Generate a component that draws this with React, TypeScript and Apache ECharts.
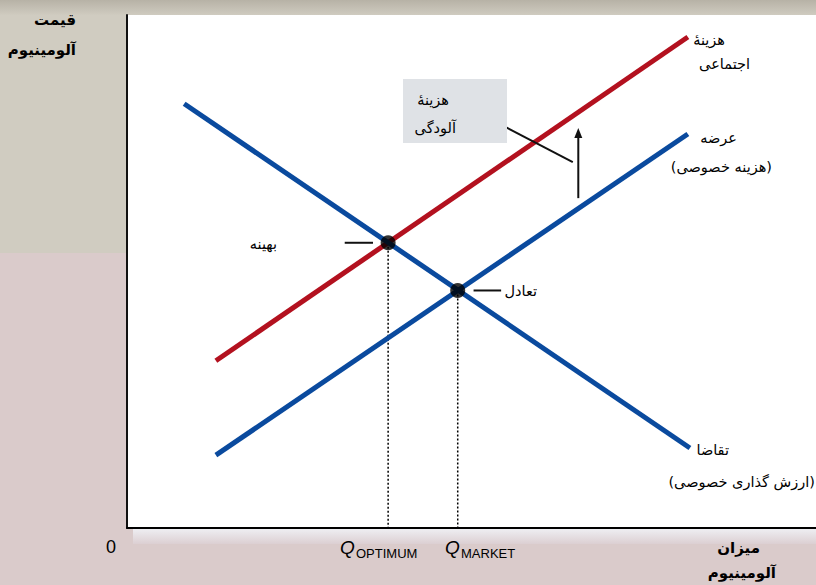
import React, { useEffect, useRef } from "react";
import * as echarts from "echarts";

// Data (x: quantity 0-100, y: price 0-100)
const socialCostCurve = [[12.9, 32.6], [81.4, 95.7]];
const supplyCurve = [[12.9, 14.2], [81.4, 76.8]];
const demandCurve = [[8.3, 82.7], [81.7, 15.6]];
const optimumPoint = [37.9, 55.6];
const marketPoint = [48.0, 46.3];
const pollutionArrow = [[65.5, 64.3], [65.5, 77.0]];
const pollutionPointer = [[54.9, 78.2], [64.7, 71.3]];
const optimumPointer = [[31.6, 55.6], [35.7, 55.6]];
const marketPointer = [[50.3, 46.3], [54.3, 46.3]];

const yTitle = ["قیمت", "آلومینیوم"];
const xTitle = ["میزان", "آلومینیوم"];
const socialCostLabel = ["هزینهٔ", "اجتماعی"];
const supplyLabel = ["عرضه", "(هزینه خصوصی)"];
const demandLabel = ["تقاضا", "(ارزش گذاری خصوصی)"];
const pollutionLabel = ["هزینهٔ", "آلودگی"];
const optimumLabel = "بهینه";
const marketLabel = "تعادل";
const zeroLabel = "0";
const qLabels = [
  { sub: "OPTIMUM", x: 340 },
  { sub: "MARKET", x: 445 },
];

const RED = "#b3111f";
const BLUE = "#0a4a9e";
const FA = "DejaVu Sans";

export default function App() {
  const ref = useRef<HTMLDivElement>(null);
  useEffect(() => {
    document.body.style.margin = "0";
    const chart = echarts.init(ref.current!, null, { renderer: "svg" });
    const txt = (text: string, x: number, y: number, opts: any = {}) => ({
      type: "text",
      z: 100,
      x,
      y,
      style: {
        text,
        fill: "#000",
        fontFamily: opts.family || FA,
        fontSize: opts.size || 14.5,
        fontWeight: opts.bold ? "bold" : "normal",
        fontStyle: opts.italic ? "italic" : "normal",
        align: opts.align || "right",
        verticalAlign: "middle",
      },
    });
    const seg = (data: any[], color: string, width: number, type: any = "solid") => ({
      type: "line",
      data,
      showSymbol: false,
      symbol: "none",
      silent: true,
      lineStyle: { color, width, type },
      z: 3,
    });
    const qTexts: any[] = [];
    qLabels.forEach((q) => {
      qTexts.push(txt("Q", q.x, 547, { family: "Liberation Sans", size: 19, italic: true, align: "left" }));
      qTexts.push(txt(q.sub, q.x + 16, 553, { family: "'Liberation Sans Narrow', 'Liberation Sans'", size: 13, align: "left" }));
    });
    chart.setOption({
      animation: false,
      grid: { left: 127, top: 15, right: 0, bottom: 57 },
      xAxis: {
        type: "value",
        min: 0,
        max: 100,
        axisLine: { show: true, lineStyle: { color: "#000", width: 2 } },
        axisTick: { show: false },
        axisLabel: { show: false },
        splitLine: { show: false },
      },
      yAxis: {
        type: "value",
        min: 0,
        max: 100,
        axisLine: { show: true, lineStyle: { color: "#111", width: 2 } },
        axisTick: { show: false },
        axisLabel: { show: false },
        splitLine: { show: false },
      },
      graphic: [
        { type: "rect", z: -10, shape: { x: 0, y: 0, width: 816, height: 585 }, style: { fill: "#dacbcb" } },
        { type: "rect", z: -9, shape: { x: 0, y: 0, width: 127, height: 253 }, style: { fill: "#d0ccc1" } },
        {
          type: "rect",
          z: -9,
          shape: { x: 0, y: 0, width: 816, height: 15 },
          style: {
            fill: new echarts.graphic.LinearGradient(0, 0, 0, 1, [
              { offset: 0, color: "#b7b2a6" },
              { offset: 1, color: "#cfcbc0" },
            ]),
          },
        },
        {
          type: "rect",
          z: -9,
          shape: { x: 133, y: 529, width: 683, height: 15 },
          style: {
            fill: new echarts.graphic.LinearGradient(0, 0, 0, 1, [
              { offset: 0, color: "#eeeef2" },
              { offset: 1, color: "#dccfd2" },
            ]),
          },
        },
        { type: "rect", z: -8, shape: { x: 127, y: 15, width: 689, height: 513 }, style: { fill: "#ffffff" } },
        { type: "rect", z: 50, shape: { x: 403, y: 79, width: 104, height: 64 }, style: { fill: "#dfe2e6" } },
        txt(pollutionLabel[0], 449, 100),
        txt(pollutionLabel[1], 456, 128),
        txt(yTitle[0], 76, 20, { bold: true, size: 15 }),
        txt(yTitle[1], 76, 50, { bold: true, size: 15 }),
        txt(xTitle[0], 760, 548, { bold: true, size: 15 }),
        txt(xTitle[1], 776, 573, { bold: true, size: 15 }),
        txt(socialCostLabel[0], 725, 40),
        txt(socialCostLabel[1], 750, 64),
        txt(supplyLabel[0], 737, 138),
        txt(supplyLabel[1], 772, 167),
        txt(demandLabel[0], 729, 450),
        txt(demandLabel[1], 815, 482),
        txt(optimumLabel, 277, 244),
        txt(marketLabel, 537, 291),
        txt(zeroLabel, 116, 547, { family: "Liberation Sans", size: 18 }),
        ...qTexts,
      ],
      series: [
        seg([optimumPoint, [optimumPoint[0], 0]], "#000", 1.5, [2, 2]),
        seg([marketPoint, [marketPoint[0], 0]], "#000", 1.5, [2, 2]),
        seg(socialCostCurve, RED, 5),
        seg(supplyCurve, BLUE, 5),
        seg(demandCurve, BLUE, 5),
        seg(pollutionPointer, "#111", 2),
        seg(optimumPointer, "#111", 2),
        seg(marketPointer, "#111", 2),
        {
          type: "line",
          silent: true,
          z: 4,
          showSymbol: true,
          lineStyle: { color: "#111", width: 2 },
          itemStyle: { color: "#111" },
          data: [
            { value: pollutionArrow[0], symbol: "none" },
            { value: pollutionArrow[1], symbol: "triangle", symbolSize: [8, 10] },
          ],
        },
        {
          type: "scatter",
          data: [optimumPoint, marketPoint],
          symbolSize: 15,
          itemStyle: { color: "#000" },
          silent: true,
          z: 5,
        },
      ],
    });
    return () => chart.dispose();
  }, []);
  return <div ref={ref} style={{ width: 816, height: 585 }} />;
}
